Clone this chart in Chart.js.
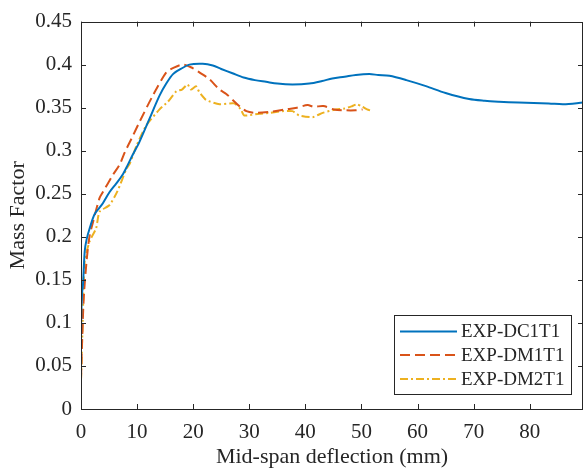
<!DOCTYPE html>
<html>
<head>
<meta charset="utf-8">
<script src="https://cdn.jsdelivr.net/npm/chart.js@4.4.1/dist/chart.umd.min.js"></script>
<style>
  html, body { margin: 0; padding: 0; background: #fff; }
  #wrap { width: 584px; height: 469px; position: relative; }
</style>
</head>
<body>
<div id="wrap"><canvas id="massChart" width="584" height="469"></canvas></div>
<script>
// curve data (x in mm, y = mass factor)
const dc1t1X = [0, 0.05, 0.2, 0.36, 0.66, 1.0, 1.55, 2.4, 3.2, 3.9, 5.1, 6.3, 7.5, 8.3, 9.2, 10.4, 12.2, 14.0, 15.2, 16.4, 17.8, 19.3, 21.7, 23.5, 25, 27, 29, 31, 33, 35, 37.7, 40.7, 43, 44.8, 47, 49, 51.4, 53, 55, 58, 61.5, 65, 69.2, 72, 74.5, 78, 83.4, 86, 89.5];
const dc1t1Y = [0.07, 0.11, 0.135, 0.145, 0.183, 0.197, 0.21, 0.226, 0.233, 0.239, 0.252, 0.262, 0.273, 0.283, 0.295, 0.31, 0.337, 0.364, 0.378, 0.389, 0.395, 0.4, 0.401, 0.399, 0.395, 0.39, 0.385, 0.382, 0.38, 0.378, 0.377, 0.378, 0.381, 0.384, 0.386, 0.388, 0.389, 0.388, 0.387, 0.382, 0.375, 0.367, 0.36, 0.358, 0.357, 0.356, 0.355, 0.354, 0.356];

const dm1t1X = [0, 0.2, 0.5, 1.0, 1.5, 2.1, 3.3, 3.9, 5.7, 6.9, 7.8, 9, 10.4, 12.8, 15.2, 16.4, 18.2, 19.9, 21.1, 22.9, 24.7, 25.9, 28.2, 29.5, 31.2, 33.5, 36.5, 38.5, 40.4, 41.5, 43.2, 45.1, 47, 49, 50.2];
const dm1t1Y = [0.035, 0.08, 0.13, 0.172, 0.2, 0.216, 0.245, 0.252, 0.272, 0.284, 0.298, 0.314, 0.333, 0.364, 0.391, 0.396, 0.4, 0.396, 0.391, 0.383, 0.371, 0.366, 0.352, 0.346, 0.344, 0.345, 0.348, 0.35, 0.353, 0.351, 0.352, 0.348, 0.347, 0.347, 0.348];

const dm2t1X = [0, 0.3, 0.66, 1.55, 2.7, 3.3, 5.1, 6.5, 8.1, 8.7, 9.9, 11.6, 14, 15.5, 17, 18, 19, 19.6, 20.5, 21.1, 22.3, 24.7, 27.3, 28.5, 29.1, 31.8, 33.6, 35.9, 37.7, 38.9, 41.3, 43.1, 45.4, 47, 48.4, 49.2, 50.2, 51, 52];
const dm2t1Y = [0.033, 0.1, 0.172, 0.195, 0.21, 0.229, 0.237, 0.253, 0.279, 0.285, 0.306, 0.329, 0.348, 0.357, 0.369, 0.371, 0.377, 0.371, 0.375, 0.368, 0.359, 0.354, 0.355, 0.348, 0.341, 0.343, 0.344, 0.346, 0.346, 0.341, 0.339, 0.344, 0.348, 0.349, 0.352, 0.354, 0.351, 0.348, 0.346];

const seriesNames = ["EXP-DC1T1", "EXP-DM1T1", "EXP-DM2T1"];
const xTicks = [0, 10, 20, 30, 40, 50, 60, 70, 80];
const yTicks = [0, 0.05, 0.1, 0.15, 0.2, 0.25, 0.3, 0.35, 0.4, 0.45];

const serif = "'Liberation Serif', 'Times New Roman', serif";
const axisColor = "#262626";

const toPoints = (xs, ys) => xs.map((x, i) => ({ x: x, y: ys[i] }));

// box round the plot, inward ticks on all four sides, legend in lower right
const boxPlugin = {
  id: "boxPlugin",
  afterDraw(chart) {
    const ctx = chart.ctx;
    const a = chart.chartArea;
    const xs = chart.scales.x;
    const ys = chart.scales.y;
    const tl = 5;
    ctx.save();
    ctx.strokeStyle = axisColor;
    ctx.lineWidth = 1;
    ctx.beginPath();
    xTicks.forEach(v => {
      const px = Math.round(xs.getPixelForValue(v)) + 0.5;
      ctx.moveTo(px, a.bottom); ctx.lineTo(px, a.bottom - tl);
      ctx.moveTo(px, a.top); ctx.lineTo(px, a.top + tl);
    });
    yTicks.forEach(v => {
      const py = Math.round(ys.getPixelForValue(v)) + 0.5;
      ctx.moveTo(a.left, py); ctx.lineTo(a.left + tl, py);
      ctx.moveTo(a.right, py); ctx.lineTo(a.right - tl, py);
    });
    ctx.stroke();
    ctx.strokeRect(Math.round(a.left) + 0.5, Math.round(a.top) + 0.5,
      Math.round(a.right - a.left) - 1, Math.round(a.bottom - a.top));

    // legend
    const lx = 394, ly = 315, lw = 177, lh = 79;
    ctx.fillStyle = "#fff";
    ctx.fillRect(lx, ly, lw, lh);
    ctx.strokeRect(lx + 0.5, ly + 0.5, lw, lh);
    const rows = [331.5, 355, 379];
    chart.data.datasets.forEach((ds, i) => {
      ctx.beginPath();
      ctx.strokeStyle = ds.borderColor;
      ctx.lineWidth = ds.borderWidth;
      ctx.setLineDash(ds.borderDash || []);
      ctx.moveTo(400, rows[i]);
      ctx.lineTo(457, rows[i]);
      ctx.stroke();
      ctx.setLineDash([]);
      ctx.fillStyle = axisColor;
      ctx.font = "19px " + serif;
      ctx.textAlign = "left";
      ctx.textBaseline = "middle";
      ctx.fillText(ds.label, 461, rows[i] + 1);
    });
    ctx.restore();
  }
};

new Chart(document.getElementById("massChart"), {
  type: "scatter",
  data: {
    datasets: [
      {
        label: seriesNames[0],
        data: toPoints(dc1t1X, dc1t1Y),
        showLine: true,
        borderColor: "#0072BD",
        borderWidth: 2,
        pointRadius: 0,
        tension: 0.3
      },
      {
        label: seriesNames[1],
        data: toPoints(dm1t1X, dm1t1Y),
        showLine: true,
        borderColor: "#D95319",
        borderWidth: 2,
        borderDash: [10, 5],
        pointRadius: 0,
        tension: 0.3
      },
      {
        label: seriesNames[2],
        data: toPoints(dm2t1X, dm2t1Y),
        showLine: true,
        borderColor: "#EDB120",
        borderWidth: 2,
        borderDash: [8, 3, 2, 3],
        pointRadius: 0,
        tension: 0.2
      }
    ]
  },
  options: {
    responsive: false,
    animation: false,
    layout: { padding: { top: 18, right: 1, left: 0, bottom: 0 } },
    plugins: {
      legend: { display: false },
      tooltip: { enabled: false }
    },
    scales: {
      x: {
        type: "linear",
        min: 0,
        max: 89.5,
        grid: { display: false, drawTicks: false },
        border: { display: false },
        afterFit: s => { s.height = 60; },
        afterBuildTicks: s => { s.ticks = xTicks.map(v => ({ value: v })); },
        ticks: {
          color: axisColor,
          padding: 11,
          maxRotation: 0,
          font: { family: serif, size: 21 },
          callback: v => String(v)
        },
        title: {
          display: true,
          text: "Mid-span deflection (mm)",
          color: axisColor,
          padding: 0,
          font: { family: serif, size: 22, lineHeight: 1.1 }
        }
      },
      y: {
        type: "linear",
        min: 0,
        max: 0.45,
        grid: { display: false, drawTicks: false },
        border: { display: false },
        afterFit: s => { s.width = 81; },
        afterBuildTicks: s => { s.ticks = yTicks.map(v => ({ value: v })); },
        ticks: {
          color: axisColor,
          padding: 9,
          font: { family: serif, size: 21 },
          callback: v => String(Number(v.toFixed(2)))
        },
        title: {
          display: true,
          text: "Mass Factor",
          color: axisColor,
          padding: { top: 6, bottom: 0 },
          font: { family: serif, size: 22, lineHeight: 1.1 }
        }
      }
    }
  },
  plugins: [boxPlugin]
});
</script>
</body>
</html>
